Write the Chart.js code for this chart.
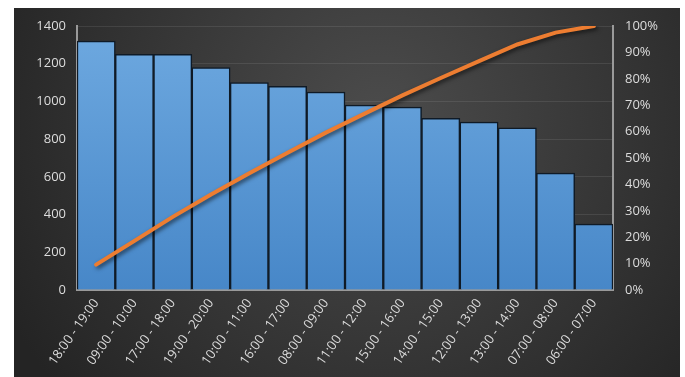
<!DOCTYPE html>
<html>
<head>
<meta charset="utf-8">
<script src="https://cdn.jsdelivr.net/npm/chart.js@4"></script>
<style>
  html, body { margin: 0; padding: 0; background: #fff; }
  #wrap { width: 685px; height: 377px; }
</style>
</head>
<body>
<div id="wrap"><canvas id="grafico" width="685" height="377"></canvas></div>
<script>
const categorias = ["18:00 - 19:00", "09:00 - 10:00", "17:00 - 18:00", "19:00 - 20:00", "10:00 - 11:00",
  "16:00 - 17:00", "08:00 - 09:00", "11:00 - 12:00", "15:00 - 16:00", "14:00 - 15:00",
  "12:00 - 13:00", "13:00 - 14:00", "07:00 - 08:00", "06:00 - 07:00"];
const quantidades = [1320, 1250, 1250, 1180, 1100, 1080, 1050, 980, 970, 910, 890, 860, 620, 350];
const acumulado = [9.6, 18.6, 27.7, 36.2, 44.2, 52.0, 59.6, 66.7, 73.7, 80.3, 86.7, 93.0, 97.5, 100];
const ticksEsq = [0, 200, 400, 600, 800, 1000, 1200, 1400];
const ticksDir = [0, 10, 20, 30, 40, 50, 60, 70, 80, 90, 100];

const fonte = { family: "'Open Sans', 'Liberation Sans', sans-serif", size: 13 };
const corTexto = "#dcdcdc";

// fundo escuro com gradiente radial
const fundo = {
  id: "fundo",
  beforeDraw(chart) {
    const ctx = chart.ctx;
    ctx.save();
    ctx.fillStyle = "#ffffff";
    ctx.fillRect(0, 0, chart.width, chart.height);
    const g = ctx.createRadialGradient(380, 120, 20, 380, 120, 420);
    g.addColorStop(0, "#4a4a4a");
    g.addColorStop(1, "#242424");
    ctx.fillStyle = g;
    ctx.fillRect(14, 8, 666, chart.height - 8);
    ctx.restore();
  },
  beforeDatasetDraw(chart, args) {
    if (args.meta.type === "line") {
      chart.ctx.save();
      chart.ctx.shadowColor = "rgba(0,0,0,0.6)";
      chart.ctx.shadowBlur = 4;
      chart.ctx.shadowOffsetX = 2;
      chart.ctx.shadowOffsetY = 2;
    }
  },
  afterDatasetDraw(chart, args) {
    if (args.meta.type === "line") chart.ctx.restore();
  }
};

function gradBarra(context) {
  const area = context.chart.chartArea;
  if (!area) return "#5b9bd5";
  const g = context.chart.ctx.createLinearGradient(0, area.top, 0, area.bottom);
  g.addColorStop(0, "#6ea9e0");
  g.addColorStop(1, "#4787c8");
  return g;
}

new Chart(document.getElementById("grafico"), {
  data: {
    labels: categorias,
    datasets: [
      {
        type: "line",
        data: acumulado,
        yAxisID: "y1",
        borderColor: "#ed7d31",
        borderWidth: 4,
        borderCapStyle: "round",
        pointRadius: 0,
        tension: 0,
        order: 0
      },
      {
        type: "bar",
        data: quantidades,
        yAxisID: "y",
        backgroundColor: gradBarra,
        borderColor: "#0f1a26",
        borderWidth: 1.5,
        categoryPercentage: 1,
        barPercentage: 1,
        order: 1
      }
    ]
  },
  options: {
    responsive: false,
    animation: false,
    layout: { padding: { top: 26, left: 0, right: 0, bottom: 0 } },
    plugins: { legend: { display: false }, tooltip: { enabled: false } },
    scales: {
      x: {
        grid: { display: false, drawTicks: false },
        border: { color: "#9a9a9a", width: 2 },
        ticks: { color: corTexto, font: fonte, minRotation: 55, maxRotation: 55, padding: 6, autoSkip: false },
        afterFit(s) { s.height = 87; }
      },
      y: {
        position: "left",
        min: 0, max: 1400,
        afterBuildTicks(s) { s.ticks = ticksEsq.map(v => ({ value: v })); },
        grid: { color: "rgba(255,255,255,0.09)", drawTicks: false },
        border: { color: "#9a9a9a", width: 2 },
        ticks: { color: corTexto, font: fonte, padding: 11, callback: v => String(v) },
        afterFit(s) { s.width = 77; }
      },
      y1: {
        position: "right",
        min: 0, max: 100,
        afterBuildTicks(s) { s.ticks = ticksDir.map(v => ({ value: v })); },
        grid: { display: false, drawTicks: false },
        border: { color: "#9a9a9a", width: 2 },
        ticks: { color: corTexto, font: fonte, padding: 12, callback: v => v + "%" },
        afterFit(s) { s.width = 72; }
      }
    }
  },
  plugins: [fundo]
});
</script>
</body>
</html>
